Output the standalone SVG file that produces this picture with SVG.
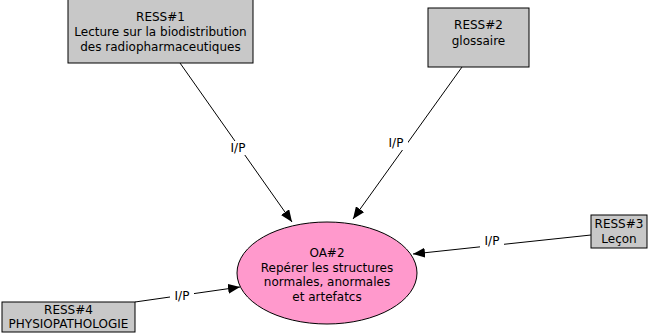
<svg xmlns="http://www.w3.org/2000/svg" width="650" height="335" viewBox="0 0 650 335">
<style>
.box{fill:#c8c8c8;stroke:#000;stroke-width:1}
.oa{fill:#ff99cc;stroke:#000;stroke-width:1}
text{font-family:"DejaVu Sans",Verdana,sans-serif;font-size:12px;fill:#000;text-anchor:middle;dominant-baseline:central}
.edge{stroke:#000;stroke-width:1;fill:none;marker-end:url(#arr)}
.lbl{fill:#fff}
</style>
<defs>
<marker id="arr" viewBox="0 0 12 10" refX="12" refY="5" markerWidth="12" markerHeight="10" markerUnits="userSpaceOnUse" orient="auto">
<path d="M0,0 L12,5 L0,10 Z" fill="#000"/>
</marker>
</defs>
<g id="connectors">
<line class="edge" x1="180" y1="63" x2="292" y2="222"/>
<rect class="lbl" x="226" y="141" width="24" height="14"/>
<text x="238" y="148">I/P</text>
<line class="edge" x1="462" y1="67" x2="353" y2="219"/>
<rect class="lbl" x="384" y="136" width="24" height="14"/>
<text x="396" y="143">I/P</text>
<line class="edge" x1="591" y1="235" x2="413" y2="254"/>
<rect class="lbl" x="480" y="234" width="24" height="14"/>
<text x="492" y="241">I/P</text>
<line class="edge" x1="135" y1="302" x2="240" y2="287"/>
<rect class="lbl" x="170" y="289" width="24" height="14"/>
<text x="182" y="296">I/P</text>
</g>
<g id="ress1">
<rect class="box" x="68" y="-1" width="185" height="64"/>
<text x="160.5" y="17">RESS#1</text>
<text x="160.5" y="32">Lecture sur la biodistribution</text>
<text x="160.5" y="47">des radiopharmaceutiques</text>
</g>
<g id="ress2">
<rect class="box" x="428" y="8" width="101" height="59"/>
<text x="478.5" y="25">RESS#2</text>
<text x="478.5" y="41">glossaire</text>
</g>
<g id="ress3">
<rect class="box" x="591" y="215" width="56" height="33"/>
<text x="619" y="224">RESS#3</text>
<text x="619" y="239">Leçon</text>
</g>
<g id="ress4">
<rect class="box" x="2" y="302" width="133" height="30"/>
<text x="68.5" y="310">RESS#4</text>
<text x="68.5" y="324">PHYSIOPATHOLOGIE</text>
</g>
<g id="oa2">
<ellipse class="oa" cx="327" cy="273" rx="90" ry="51"/>
<text x="327" y="253">OA#2</text>
<text x="327" y="268">Repérer les structures</text>
<text x="327" y="282">normales, anormales</text>
<text x="327" y="297">et artefatcs</text>
</g>
</svg>
